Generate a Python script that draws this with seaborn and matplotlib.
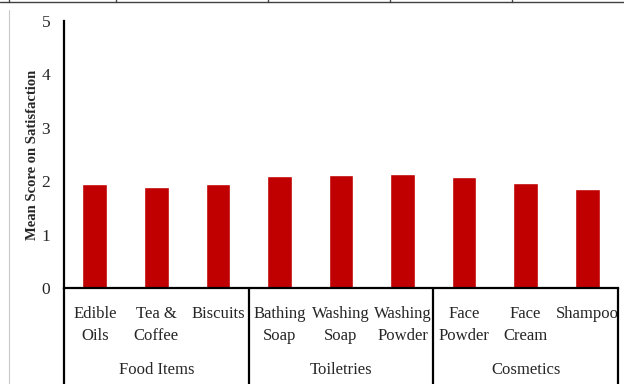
import matplotlib
matplotlib.use("Agg")
import matplotlib.pyplot as plt
from matplotlib.lines import Line2D
import matplotlib.transforms as mtransforms
import seaborn as sns
import pandas as pd

# Product categories (two-line labels), their groups and mean satisfaction scores
categories = ["Edible\nOils", "Tea &\nCoffee", "Biscuits",
              "Bathing\nSoap", "Washing\nSoap", "Washing\nPowder",
              "Face\nPowder", "Face\nCream", "Shampoo"]
groups = ["Food Items", "Food Items", "Food Items",
          "Toiletries", "Toiletries", "Toiletries",
          "Cosmetics", "Cosmetics", "Cosmetics"]
scores = [1.95, 1.89, 1.95, 2.09, 2.12, 2.14, 2.07, 1.97, 1.86]
y_ticks = [0, 1, 2, 3, 4, 5]

sns.set_theme(style="white")
plt.rcParams["font.family"] = ["Liberation Serif", "DejaVu Serif"]

df = pd.DataFrame({"category": categories, "group": groups, "score": scores})

fig = plt.figure(figsize=(6.24, 3.84), dpi=100)
ax = fig.add_axes([64 / 624, 1 - 288 / 384, (618 - 64) / 624, (288 - 21) / 384])

sns.barplot(data=df, x="category", y="score", color="#C00000", width=0.4,
            saturation=1, ax=ax)

ax.set_xlim(-0.5, len(categories) - 0.5)
ax.set_ylim(0, 5)
ax.set_yticks(y_ticks)
ax.set_yticklabels([str(t) for t in y_ticks], fontsize=12.5)
ax.tick_params(axis="y", length=0, pad=10)
ax.tick_params(axis="x", length=0, pad=13)
for lbl in ax.get_xticklabels():
    lbl.set_fontsize(12)
    lbl.set_linespacing(1.5)
    lbl.set_verticalalignment("top")

ax.set_xlabel("")
ax.set_ylabel("Mean Score on Satisfaction", fontsize=10.5, fontweight="bold")
ax.yaxis.set_label_coords(-0.045, 0.5)

for side in ["top", "right"]:
    ax.spines[side].set_visible(False)
for side in ["left", "bottom"]:
    ax.spines[side].set_linewidth(1.6)
    ax.spines[side].set_color("black")

# Group separators and group names below the category labels
trans = mtransforms.blended_transform_factory(ax.transData, ax.transAxes)
group_names = list(dict.fromkeys(groups))
bounds = [-0.5]
for g in group_names:
    idx = [i for i, gg in enumerate(groups) if gg == g]
    bounds.append(idx[-1] + 0.5)
    ax.text((idx[0] + idx[-1]) / 2, -0.307, g, transform=trans,
            ha="center", va="center", fontsize=12)
for b in bounds:
    ax.add_line(Line2D([b, b], [0, -0.36], transform=trans, color="black",
                       lw=1.6, clip_on=False))

# Page rules around the figure
fig.add_artist(Line2D([0, 1], [1 - 2 / 384, 1 - 2 / 384], transform=fig.transFigure,
                      color="#404040", lw=1.0))
for xp in [9, 116, 268, 390, 512]:
    fig.add_artist(Line2D([xp / 624, xp / 624], [1 - 2 / 384, 1], transform=fig.transFigure,
                          color="#404040", lw=1.0))
fig.add_artist(Line2D([9 / 624, 9 / 624], [0, 1 - 10 / 384], transform=fig.transFigure,
                      color="#c8c8c8", lw=0.8))

fig.savefig("out.png", dpi=100)
